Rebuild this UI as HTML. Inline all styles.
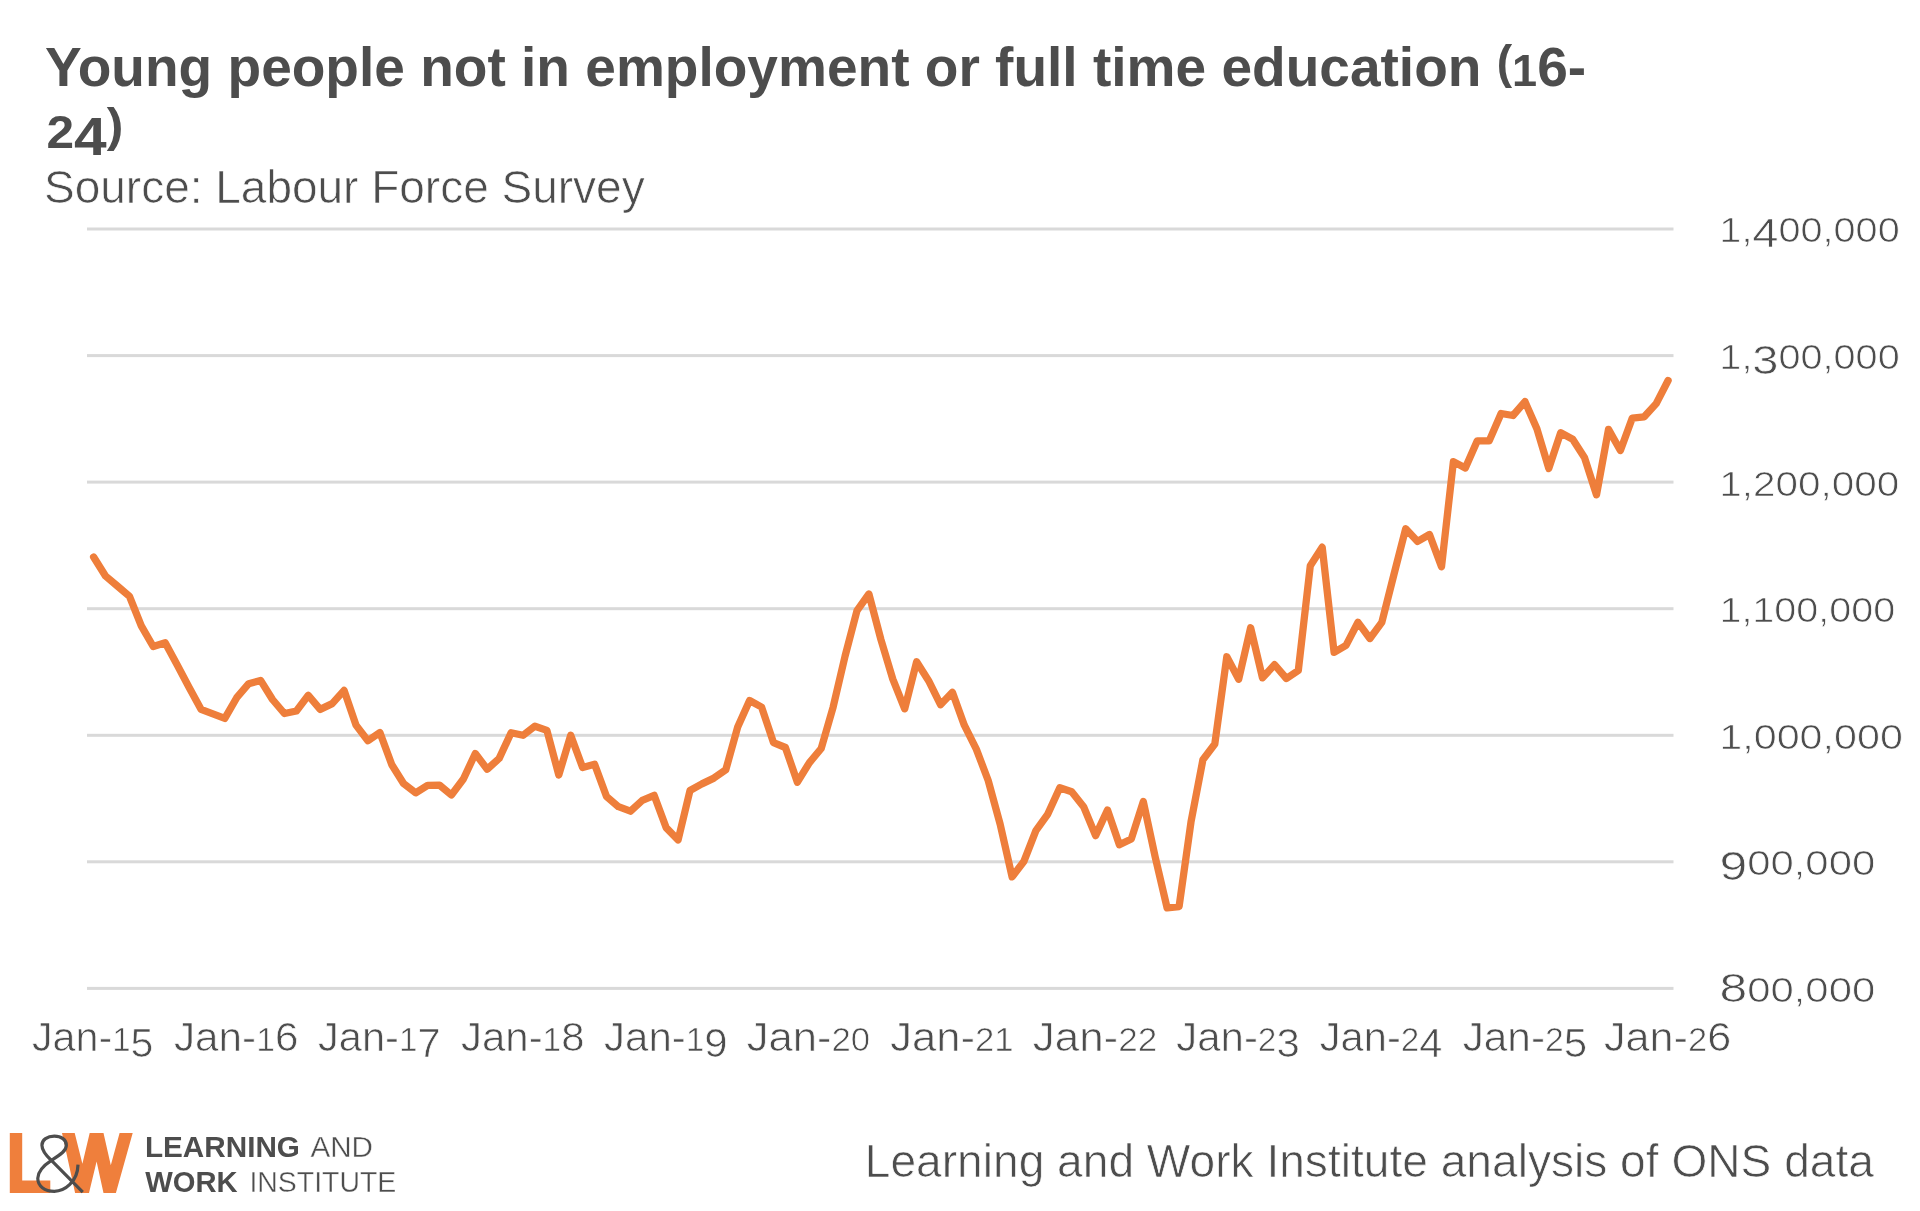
<!DOCTYPE html>
<html><head><meta charset="utf-8"><style>
html,body{margin:0;padding:0;background:#fff;}
body{width:1920px;height:1211px;overflow:hidden;}
svg{display:block;will-change:transform;}
text{font-family:"Liberation Sans",sans-serif;fill:#4d4d4d;}
text.thin{stroke:#fff;stroke-width:0.7px;}
</style></head><body>
<svg width="1920" height="1211" viewBox="0 0 1920 1211">
<rect width="1920" height="1211" fill="#fff"/>
<rect x="87" y="227.5" width="1586.5" height="3" fill="#d9d9d9"/><rect x="87" y="354.1" width="1586.5" height="3" fill="#d9d9d9"/><rect x="87" y="480.6" width="1586.5" height="3" fill="#d9d9d9"/><rect x="87" y="607.2" width="1586.5" height="3" fill="#d9d9d9"/><rect x="87" y="733.8" width="1586.5" height="3" fill="#d9d9d9"/><rect x="87" y="860.3" width="1586.5" height="3" fill="#d9d9d9"/><rect x="87" y="986.9" width="1586.5" height="3" fill="#d9d9d9"/>
<polyline points="93.6,557.0 105.5,576.0 117.5,586.1 129.4,596.2 141.3,625.9 153.2,646.5 165.2,642.7 177.1,664.8 189.0,687.2 201.0,709.3 212.9,713.8 224.8,718.4 236.7,697.7 248.7,683.7 260.6,680.4 272.5,699.5 284.4,713.5 296.4,711.0 308.3,695.3 320.2,709.4 332.2,703.6 344.1,690.4 356.0,725.1 367.9,740.7 379.9,732.5 391.8,764.7 403.7,783.7 415.7,792.8 427.6,785.3 439.5,785.1 451.4,795.0 463.4,779.0 475.3,753.5 487.2,769.2 499.2,758.4 511.1,732.8 523.0,735.3 534.9,726.2 546.9,730.4 558.8,775.0 570.7,735.3 582.6,767.5 594.6,764.2 606.5,796.4 618.4,806.7 630.4,811.2 642.3,800.4 654.2,795.4 666.1,827.6 678.1,840.0 690.0,790.5 701.9,783.9 713.9,778.1 725.8,769.8 737.7,726.9 749.6,700.5 761.6,707.1 773.5,742.6 785.4,747.5 797.4,782.2 809.3,762.8 821.2,748.5 833.1,707.2 845.1,656.0 857.0,610.6 868.9,594.0 880.9,639.5 892.8,679.1 904.7,708.8 916.6,661.8 928.6,680.7 940.5,704.7 952.4,692.3 964.3,725.2 976.3,749.1 988.2,780.5 1000.1,824.0 1012.1,876.9 1024.0,861.2 1035.9,830.7 1047.8,814.1 1059.8,787.7 1071.7,791.8 1083.6,806.7 1095.6,835.6 1107.5,810.0 1119.4,844.7 1131.3,839.0 1143.3,801.5 1155.2,857.0 1167.1,907.8 1179.1,906.5 1191.0,821.9 1202.9,759.8 1214.8,744.0 1226.8,656.8 1238.7,679.3 1250.6,627.7 1262.5,677.9 1274.5,664.7 1286.4,678.5 1298.3,670.5 1310.3,565.7 1322.2,547.2 1334.1,652.4 1346.0,645.4 1358.0,622.3 1369.9,638.5 1381.8,622.3 1393.8,575.0 1405.7,528.7 1417.6,541.4 1429.5,534.5 1441.5,566.8 1453.4,461.6 1465.3,468.0 1477.3,440.8 1489.2,440.9 1501.1,413.5 1513.0,415.5 1525.0,401.6 1536.9,428.7 1548.8,468.4 1560.7,432.7 1572.7,439.3 1584.6,457.8 1596.5,494.8 1608.5,429.4 1620.4,450.5 1632.3,418.1 1644.2,416.8 1656.2,403.6 1668.1,380.5" fill="none" stroke="#ee7e3b" stroke-width="7.3" stroke-linejoin="round" stroke-linecap="round"/>
<text id="t1" x="45.10" y="85.60" textLength="1541.00" lengthAdjust="spacingAndGlyphs" font-size="55" font-weight="bold">Young people not in employment or full time education <tspan font-size="46.2" dy="-7.4">(</tspan><tspan dy="7.4"><tspan font-size="45">1</tspan>6-</tspan></text>
<text id="t2" x="46.52" y="148.10" textLength="76.81" lengthAdjust="spacingAndGlyphs" font-size="55" font-weight="bold"><tspan font-size="46">2</tspan><tspan font-size="54.4" dy="6.6">4</tspan><tspan font-size="46.2" dy="-14">)</tspan></text>
<text id="sub" style="stroke:#fff;stroke-width:0.7px" x="44.03" y="202.70" textLength="600.62" lengthAdjust="spacingAndGlyphs" font-size="46.7" font-weight="normal">Source: Labour Force Survey</text>
<text id="foot" style="stroke:#fff;stroke-width:0.7px" x="864.81" y="1177.40" textLength="1009.10" lengthAdjust="spacingAndGlyphs" font-size="46.2" font-weight="normal">Learning and Work Institute analysis of ONS data</text>
<text id="lg1" x="144.93" y="1157.30" textLength="155.06" lengthAdjust="spacingAndGlyphs" font-size="30.4" font-weight="bold">LEARNING</text>
<text id="lg2" style="stroke:#fff;stroke-width:0.4px" x="310.41" y="1157.30" textLength="62.56" lengthAdjust="spacingAndGlyphs" font-size="30.4" font-weight="normal">AND</text>
<text id="lg3" x="145.27" y="1192.30" textLength="92.40" lengthAdjust="spacingAndGlyphs" font-size="30.4" font-weight="bold">WORK</text>
<text id="lg4" style="stroke:#fff;stroke-width:0.4px" x="249.40" y="1192.30" textLength="146.85" lengthAdjust="spacingAndGlyphs" font-size="30.4" font-weight="normal">INSTITUTE</text>
<text id="y0" style="stroke:#fff;stroke-width:0.7px" x="1719.37" y="242.40" textLength="180.31" lengthAdjust="spacingAndGlyphs" font-size="34" font-weight="normal"><tspan font-size="34.2">1</tspan>,<tspan font-size="40.7" dy="4.7">4</tspan><tspan font-size="34.2" dy="-4.7">0</tspan><tspan font-size="34.2">0</tspan>,<tspan font-size="34.2">0</tspan><tspan font-size="34.2">0</tspan><tspan font-size="34.2">0</tspan></text>
<text id="y1" style="stroke:#fff;stroke-width:0.7px" x="1719.38" y="368.97" textLength="180.29" lengthAdjust="spacingAndGlyphs" font-size="34" font-weight="normal"><tspan font-size="34.2">1</tspan>,<tspan font-size="40.7" dy="4.7">3</tspan><tspan font-size="34.2" dy="-4.7">0</tspan><tspan font-size="34.2">0</tspan>,<tspan font-size="34.2">0</tspan><tspan font-size="34.2">0</tspan><tspan font-size="34.2">0</tspan></text>
<text id="y2" style="stroke:#fff;stroke-width:0.7px" x="1719.36" y="495.53" textLength="179.92" lengthAdjust="spacingAndGlyphs" font-size="34" font-weight="normal"><tspan font-size="34.2">1</tspan>,<tspan font-size="34.2">2</tspan><tspan font-size="34.2">0</tspan><tspan font-size="34.2">0</tspan>,<tspan font-size="34.2">0</tspan><tspan font-size="34.2">0</tspan><tspan font-size="34.2">0</tspan></text>
<text id="y3" style="stroke:#fff;stroke-width:0.7px" x="1719.40" y="622.10" textLength="175.86" lengthAdjust="spacingAndGlyphs" font-size="34" font-weight="normal"><tspan font-size="34.2">1</tspan>,<tspan font-size="34.2">1</tspan><tspan font-size="34.2">0</tspan><tspan font-size="34.2">0</tspan>,<tspan font-size="34.2">0</tspan><tspan font-size="34.2">0</tspan><tspan font-size="34.2">0</tspan></text>
<text id="y4" style="stroke:#fff;stroke-width:0.7px" x="1719.34" y="748.67" textLength="183.55" lengthAdjust="spacingAndGlyphs" font-size="34" font-weight="normal"><tspan font-size="34.2">1</tspan>,<tspan font-size="34.2">0</tspan><tspan font-size="34.2">0</tspan><tspan font-size="34.2">0</tspan>,<tspan font-size="34.2">0</tspan><tspan font-size="34.2">0</tspan><tspan font-size="34.2">0</tspan></text>
<text id="y5" style="stroke:#fff;stroke-width:0.7px" x="1719.48" y="875.23" textLength="155.79" lengthAdjust="spacingAndGlyphs" font-size="34" font-weight="normal"><tspan font-size="40.7" dy="4.7">9</tspan><tspan font-size="34.2" dy="-4.7">0</tspan><tspan font-size="34.2">0</tspan>,<tspan font-size="34.2">0</tspan><tspan font-size="34.2">0</tspan><tspan font-size="34.2">0</tspan></text>
<text id="y6" style="stroke:#fff;stroke-width:0.7px" x="1719.48" y="1001.80" textLength="155.79" lengthAdjust="spacingAndGlyphs" font-size="34" font-weight="normal"><tspan font-size="40.7">8</tspan><tspan font-size="34.2">0</tspan><tspan font-size="34.2">0</tspan>,<tspan font-size="34.2">0</tspan><tspan font-size="34.2">0</tspan><tspan font-size="34.2">0</tspan></text>
<text id="x0" style="stroke:#fff;stroke-width:0.7px" x="31.99" y="1051.30" textLength="121.51" lengthAdjust="spacingAndGlyphs" font-size="41.4" font-weight="normal">Jan-<tspan font-size="33.0">1</tspan><tspan font-size="41.3" dy="6">5</tspan></text>
<text id="x1" style="stroke:#fff;stroke-width:0.7px" x="174.00" y="1051.30" textLength="124.34" lengthAdjust="spacingAndGlyphs" font-size="41.4" font-weight="normal">Jan-<tspan font-size="33.0">1</tspan><tspan font-size="41.3">6</tspan></text>
<text id="x2" style="stroke:#fff;stroke-width:0.7px" x="317.99" y="1051.30" textLength="122.52" lengthAdjust="spacingAndGlyphs" font-size="41.4" font-weight="normal">Jan-<tspan font-size="33.0">1</tspan><tspan font-size="41.3" dy="6">7</tspan></text>
<text id="x3" style="stroke:#fff;stroke-width:0.7px" x="460.99" y="1051.30" textLength="123.55" lengthAdjust="spacingAndGlyphs" font-size="41.4" font-weight="normal">Jan-<tspan font-size="33.0">1</tspan><tspan font-size="41.3">8</tspan></text>
<text id="x4" style="stroke:#fff;stroke-width:0.7px" x="604.11" y="1051.30" textLength="123.55" lengthAdjust="spacingAndGlyphs" font-size="41.4" font-weight="normal">Jan-<tspan font-size="33.0">1</tspan><tspan font-size="41.3" dy="6">9</tspan></text>
<text id="x5" style="stroke:#fff;stroke-width:0.7px" x="746.65" y="1051.30" textLength="123.57" lengthAdjust="spacingAndGlyphs" font-size="41.4" font-weight="normal">Jan-<tspan font-size="33.0">2</tspan><tspan font-size="33.0">0</tspan></text>
<text id="x6" style="stroke:#fff;stroke-width:0.7px" x="890.17" y="1051.30" textLength="123.53" lengthAdjust="spacingAndGlyphs" font-size="41.4" font-weight="normal">Jan-<tspan font-size="33.0">2</tspan><tspan font-size="33.0">1</tspan></text>
<text id="x7" style="stroke:#fff;stroke-width:0.7px" x="1032.71" y="1051.30" textLength="124.55" lengthAdjust="spacingAndGlyphs" font-size="41.4" font-weight="normal">Jan-<tspan font-size="33.0">2</tspan><tspan font-size="33.0">2</tspan></text>
<text id="x8" style="stroke:#fff;stroke-width:0.7px" x="1176.23" y="1051.30" textLength="123.55" lengthAdjust="spacingAndGlyphs" font-size="41.4" font-weight="normal">Jan-<tspan font-size="33.0">2</tspan><tspan font-size="41.3" dy="6">3</tspan></text>
<text id="x9" style="stroke:#fff;stroke-width:0.7px" x="1319.79" y="1051.30" textLength="122.52" lengthAdjust="spacingAndGlyphs" font-size="41.4" font-weight="normal">Jan-<tspan font-size="33.0">2</tspan><tspan font-size="41.3" dy="6">4</tspan></text>
<text id="x10" style="stroke:#fff;stroke-width:0.7px" x="1462.70" y="1051.30" textLength="124.55" lengthAdjust="spacingAndGlyphs" font-size="41.4" font-weight="normal">Jan-<tspan font-size="33.0">2</tspan><tspan font-size="41.3" dy="6">5</tspan></text>
<text id="x11" style="stroke:#fff;stroke-width:0.7px" x="1603.97" y="1051.30" textLength="127.19" lengthAdjust="spacingAndGlyphs" font-size="41.4" font-weight="normal">Jan-<tspan font-size="33.0">2</tspan><tspan font-size="41.3">6</tspan></text>
<polygon points="9.8,1133.1 22.2,1133.1 22.2,1180.5 50.3,1180.5 50.3,1192.9 9.8,1192.9" fill="#ef7f3c"/>
<polygon points="62.0,1133.1 74.7,1133.1 82.4,1163.8 89.7,1133.1 103.5,1133.1 110.8,1165.2 119.6,1133.1 132.7,1133.1 115.9,1192.9 103.5,1192.9 96.6,1161.6 89.0,1192.9 75.1,1192.9" fill="#ef7f3c"/>
<g transform="translate(0,1120) scale(0.072917)"><path d="M1135 990 L705 555 C610 465 575 410 575 345 C575 270 650 222 745 222 C840 222 910 270 910 345 C910 420 835 470 710 550 C580 635 518 715 518 800 C518 905 610 978 745 978 C885 978 1065 850 1070 612" fill="none" stroke="#4d4d4d" stroke-width="44"/></g>
</svg>
</body></html>
